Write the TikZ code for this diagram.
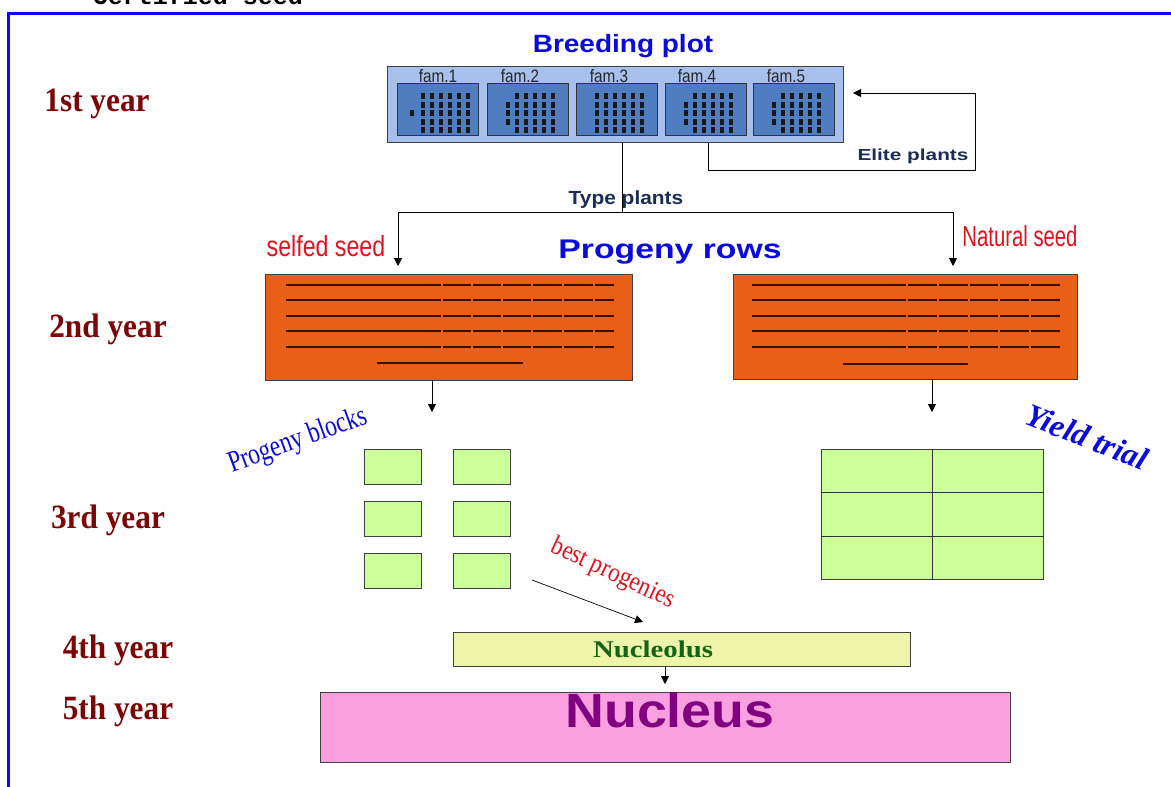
\documentclass[tikz,border=0pt]{standalone}
\usepackage{fontspec}
\setmainfont{Liberation Serif}
\newfontfamily\arial{Liberation Sans}
\newfontfamily\mono{Liberation Mono}
\usetikzlibrary{arrows.meta,calc}
\definecolor{frameblue}{RGB}{10,10,245}
\definecolor{plotbg}{RGB}{168,192,236}
\definecolor{famblue}{RGB}{80,125,192}
\definecolor{orangebox}{RGB}{233,95,22}
\definecolor{greenbox}{RGB}{204,255,153}
\definecolor{nucleolusbox}{RGB}{238,245,170}
\definecolor{pinkbox}{RGB}{250,160,225}
\definecolor{purpletext}{RGB}{128,0,128}
\definecolor{darkred}{RGB}{125,5,5}
\definecolor{textblue}{RGB}{10,10,220}
\definecolor{redtext}{RGB}{225,20,30}
\definecolor{navytext}{RGB}{25,45,85}
\definecolor{greentext}{RGB}{20,100,20}
\definecolor{rowline}{RGB}{55,15,5}
\begin{document}
\begin{tikzpicture}[x=1pt,y=-1pt,
  rectbox/.style={draw=black!75, line width=1pt, inner sep=0pt, anchor=north west},
  conn/.style={draw=black, line width=0.9pt},
  arr/.style={conn, -{Triangle[length=8pt,width=8pt]}},
  yearlbl/.style={text=darkred, font=\bfseries\fontsize{34}{34}\selectfont, xscale=0.92, anchor=base, inner sep=0pt},
  famlbl/.style={font=\arial\fontsize{18}{18}\selectfont, xscale=0.85, anchor=base, inner sep=0pt, text=black!85},
  rowstroke/.style={draw=rowline, line width=2.2pt},
  dashfill/.style={fill=black!90},
]
\useasboundingbox (0,0) rectangle (1171,787);
\fill[white] (0,0) rectangle (1171,787);
% cut-off title
\begin{scope}
\clip (0,0) rectangle (1171,787);
\node[anchor=base, inner sep=0pt, font=\mono\bfseries\fontsize{25}{25}\selectfont] (cert) at (198,5) {Certified seed};
\end{scope}
% frame
\draw[frameblue, line width=2.5pt] (8.5,800) -- (8.5,13.5) -- (1180,13.5);

% year labels
\node[yearlbl] (y1) at (97,111) {1st year};
\node[yearlbl] (y2) at (108,337) {2nd year};
\node[yearlbl] (y3) at (108,528) {3rd year};
\node[yearlbl] (y4) at (118,658) {4th year};
\node[yearlbl] (y5) at (118,719) {5th year};

% breeding plot
\node[anchor=base, inner sep=0pt, text=textblue, font=\arial\bfseries\fontsize{25}{25}\selectfont, xscale=1.12] (bptitle) at (623,52) {Breeding plot};
\node[rectbox, fill=plotbg, minimum width=456, minimum height=76] (plot) at (387,66) {};
\foreach \i/\x in {1/397,2/487,3/576,4/665,5/753}{
  \node[rectbox, draw=black!80, fill=famblue, minimum width=81, minimum height=52] (fam\i) at (\x,83) {};
}
\node[famlbl] (fl1) at (438,82) {fam.1};
\node[famlbl] (fl2) at (520,82) {fam.2};
\node[famlbl] (fl3) at (609,82) {fam.3};
\node[famlbl] (fl4) at (697,82) {fam.4};
\node[famlbl] (fl5) at (786,82) {fam.5};
% plant dashes
\newcommand\plantcol[3]{\foreach \r in {#2,...,#3}{\fill[dashfill] ({#1-1.75},{93+(\r-1)*8.5}) rectangle ++(3.5,6);}}
\foreach \c in {468,459,450,441,432,423}{\plantcol{\c}{1}{5}}
\plantcol{412}{3}{3}
\foreach \c in {553,544,535,526,517}{\plantcol{\c}{1}{5}}
\plantcol{508}{2}{4}
\foreach \c in {642,633,624,615,606,597}{\plantcol{\c}{1}{5}}
\foreach \c in {731,722,713,704,695}{\plantcol{\c}{1}{5}}
\plantcol{686}{2}{4}
\foreach \c in {819,810,801,792,783}{\plantcol{\c}{1}{5}}
\plantcol{774}{2}{4}

% connectors from breeding plot
\coordinate (tp) at (622,212);
\coordinate (lsplit) at (398,212);
\coordinate (rsplit) at (953,212);
\coordinate (ltip) at (398,266);
\coordinate (rtip) at (953,266);
\draw[conn] (plot.south -| tp) -- (tp);
\draw[arr] (tp) -- (lsplit) -- (ltip);
\draw[arr] (tp) -- (rsplit) -- (rtip);
\node[anchor=base, inner sep=0pt, text=navytext, font=\arial\bfseries\fontsize{19}{19}\selectfont, xscale=1.1] (typeplants) at (626,204) {Type plants};
% elite loop
\coordinate (e1) at (708,170);
\coordinate (e2) at (975,170);
\coordinate (e3) at (975,93);
\coordinate (etip) at (853,93);
\draw[arr] (plot.south -| e1) -- (e1) -- (e2) -- (e3) -- (etip);
\node[anchor=base, inner sep=0pt, text=navytext, font=\arial\bfseries\fontsize{16}{16}\selectfont, xscale=1.3] (elite) at (913,160) {Elite plants};

% seed labels
\node[anchor=base, inner sep=0pt, text=redtext, font=\arial\fontsize{29}{29}\selectfont, xscale=0.8] (selfed) at (326,256) {selfed seed};
\node[anchor=base, inner sep=0pt, text=redtext, font=\arial\fontsize{29}{29}\selectfont, xscale=0.7] (natural) at (1020,246) {Natural seed};
\node[anchor=base, inner sep=0pt, text=textblue, font=\arial\bfseries\fontsize{27}{27}\selectfont, xscale=1.25] (progrows) at (670,258) {Progeny rows};

% progeny rows boxes
\node[rectbox, fill=orangebox, minimum width=367, minimum height=106] (rowsL) at (265,274) {};
\node[rectbox, fill=orangebox, minimum width=344, minimum height=105] (rowsR) at (733,274) {};
\foreach \yy in {285,300,316,331,347}{
  \draw[rowstroke] (286,\yy) -- (441,\yy);
  \foreach \a/\b in {443/471,473/501,503/531,533/562,564/593,595/614}{\draw[rowstroke] (\a,\yy) -- (\b,\yy);}
  \draw[rowstroke] (752,\yy) -- (906,\yy);
  \foreach \a/\b in {908/937,939/968,970/998,1000/1029,1031/1060}{\draw[rowstroke] (\a,\yy) -- (\b,\yy);}
}
\draw[rowstroke] (377,363) -- (523,363);
\draw[rowstroke] (843,364) -- (968,364);

\coordinate (la) at (432,412);
\coordinate (ra) at (932,412);
\draw[arr] (rowsL.south -| la) -- (la);
\draw[arr] (rowsR.south -| ra) -- (ra);

% progeny blocks
\node[rotate=20, text=textblue, font=\fontsize{30}{30}\selectfont, xscale=0.78] (pblocks) at (298,441) {Progeny blocks};
\foreach \n/\x/\y in {a/364/449,b/453/449,c/364/501,d/453/501,e/364/553,f/453/553}{
  \node[rectbox, fill=greenbox, minimum width=57, minimum height=35] (blk\n) at (\x,\y) {};
}

% yield trial
\node[rotate=-22, text=textblue, font=\bfseries\itshape\fontsize{32}{32}\selectfont] (yield) at (1087,437) {Yield trial};
\node[rectbox, fill=greenbox, minimum width=222, minimum height=130] (yt) at (821,449) {};
\draw[black!80, line width=1pt] ($(yt.north west)!0.5!(yt.north east)$) -- ($(yt.south west)!0.5!(yt.south east)$);
\draw[black!80, line width=1pt] ($(yt.north west)!0.33!(yt.south west)$) -- ($(yt.north east)!0.33!(yt.south east)$);
\draw[black!80, line width=1pt] ($(yt.north west)!0.67!(yt.south west)$) -- ($(yt.north east)!0.67!(yt.south east)$);

% best progenies
\node[rotate=-25, text=redtext, font=\fontsize{27}{27}\selectfont, xscale=0.86] (best) at (613,574) {best progenies};
\coordinate (bp1) at (532,580);
\coordinate (bp2) at (643,622);
\draw[arr, line width=0.7pt] (bp1) -- (bp2);

% nucleolus
\node[rectbox, fill=nucleolusbox, minimum width=457, minimum height=34] (nucleolus) at (453,632) {};
\node[anchor=base, inner sep=0pt, text=greentext, font=\bfseries\fontsize{24}{24}\selectfont, xscale=1.2] (nltxt) at (653,657) {Nucleolus};
\coordinate (na) at (665,684);
\draw[arr] (nucleolus.south -| na) -- (na);

% nucleus
\node[rectbox, fill=pinkbox, minimum width=690, minimum height=70] (nucleus) at (320,692) {};
\node[anchor=base, inner sep=0pt, text=purpletext, font=\arial\bfseries\fontsize{48}{48}\selectfont, xscale=1.12] (nutxt) at (670,727) {Nucleus};
\end{tikzpicture}
\end{document}
